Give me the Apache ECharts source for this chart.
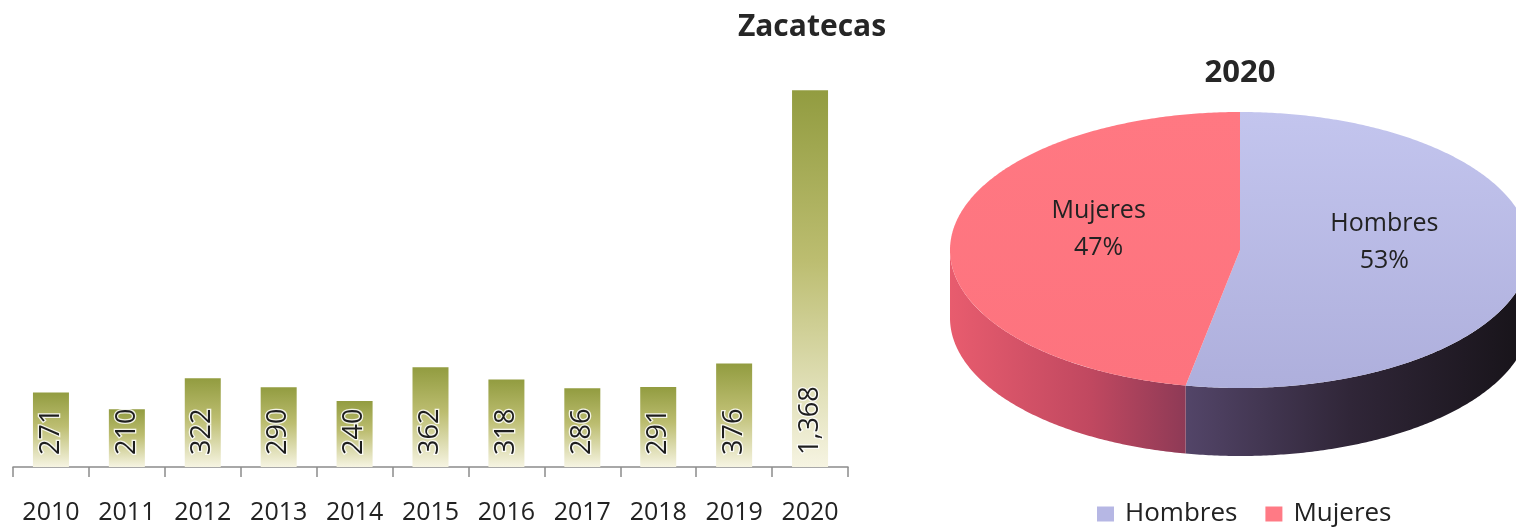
<!DOCTYPE html>
<html>
<head>
<meta charset="utf-8">
<script src="https://cdn.jsdelivr.net/npm/echarts@6/dist/echarts.min.js"></script>
<style>
  html, body { margin: 0; padding: 0; background: #ffffff; }
  #chart { width: 1516px; height: 528px; }
</style>
</head>
<body>
<div id="chart"></div>
<script>
// Casos anuales en Zacatecas
const years = ['2010', '2011', '2012', '2013', '2014', '2015', '2016', '2017', '2018', '2019', '2020'];
const casos = [271, 210, 322, 290, 240, 362, 318, 286, 291, 376, 1368];

// Distribución por sexo, 2020 (%)
const sexos = ['Hombres', 'Mujeres'];
const porcentajes = [53, 47];

const FONT = '"Open Sans", "Noto Sans", "DejaVu Sans", sans-serif';

// Geometry of the tilted pie (ellipse + side wall depth)
const PIE = { cx: 1240, cy: 250, rx: 290, ry: 138, depth: 68 };

const legendColors = ['#b6b7e4', '#ff7a85'];
const topFill = [
  { type: 'linear', x: 0, y: PIE.cy - PIE.ry, x2: 0, y2: PIE.cy + PIE.ry, global: true,
    colorStops: [{ offset: 0, color: '#c3c5ee' }, { offset: 1, color: '#aeafdc' }] },
  { type: 'linear', x: 0, y: PIE.cy - PIE.ry, x2: 0, y2: PIE.cy + PIE.ry, global: true,
    colorStops: [{ offset: 0, color: '#ff7882' }, { offset: 1, color: '#fd737e' }] }
];
const sideFill = [
  { type: 'linear', x: 1180, y: 0, x2: 1520, y2: 0, global: true,
    colorStops: [{ offset: 0, color: '#54466a' }, { offset: 0.5, color: '#302638' }, { offset: 1, color: '#18141a' }] },
  { type: 'linear', x: 950, y: 0, x2: 1186, y2: 0, global: true,
    colorStops: [{ offset: 0, color: '#e85c6e' }, { offset: 0.6, color: '#c04860' }, { offset: 1, color: '#8e3a56' }] }
];

// cumulative start / end fractions of each slice
const total = porcentajes.reduce((a, b) => a + b, 0);
let acc = 0;
const slices = porcentajes.map(v => {
  const start = acc / total;
  acc += v;
  return [start, acc / total, v];
});

function arcPoints(a0, a1, dy) {
  const pts = [];
  const n = Math.max(2, Math.ceil((a1 - a0) / 0.01));
  for (let i = 0; i <= n; i++) {
    const t = a0 + (a1 - a0) * i / n;
    pts.push([PIE.cx + PIE.rx * Math.sin(t), PIE.cy - PIE.ry * Math.cos(t) + dy]);
  }
  return pts;
}

function makeSliceRenderer(idx) {
  return function (params, api) {
    const a0 = api.value(0) * 2 * Math.PI;
    const a1 = api.value(1) * 2 * Math.PI;
    const pct = api.value(2);
    const children = [];
    // front side wall (only the lower half of the rim is visible)
    const s = Math.max(a0, Math.PI / 2);
    const e = Math.min(a1, 3 * Math.PI / 2);
    if (e > s) {
      const rim = arcPoints(s, e, 0);
      const base = arcPoints(s, e, PIE.depth).reverse();
      children.push({ type: 'polygon', shape: { points: rim.concat(base) }, style: { fill: sideFill[idx] } });
    }
    // top face
    const face = [[PIE.cx, PIE.cy]].concat(arcPoints(a0, a1, 0));
    children.push({ type: 'polygon', shape: { points: face }, style: { fill: topFill[idx] } });
    // label
    const mid = (a0 + a1) / 2;
    children.push({
      type: 'text',
      x: PIE.cx + PIE.rx * 0.5 * Math.sin(mid) + (idx === 1 ? 3 : 0),
      y: PIE.cy - PIE.ry * 0.5 * Math.cos(mid) - 14,
      style: {
        text: sexos[idx] + '\n' + pct + '%',
        align: 'center', verticalAlign: 'middle',
        fill: '#222222', fontSize: 25, fontFamily: FONT, lineHeight: 37
      }
    });
    return { type: 'group', children };
  };
}

const chart = echarts.init(document.getElementById('chart'), null, { renderer: 'canvas' });

const option = {
  backgroundColor: '#ffffff',
  animation: false,
  title: [
    { text: 'Zacatecas', left: 812, top: 12, textAlign: 'center', padding: 0,
      textStyle: { fontFamily: FONT, fontSize: 30, fontWeight: 'bold', color: '#262626' } },
    { text: '2020', left: 1240, top: 58, textAlign: 'center', padding: 0,
      textStyle: { fontFamily: FONT, fontSize: 31, fontWeight: 'bold', color: '#262626' } }
  ],
  legend: {
    data: sexos,
    left: 1097, top: 501, padding: 0,
    icon: 'rect', itemWidth: 17, itemHeight: 15, itemGap: 28,
    textStyle: { fontFamily: FONT, fontSize: 26, color: '#222222', padding: [0, 0, 0, 6] }
  },
  grid: { left: 13, right: 668, top: 54, bottom: 61 },
  xAxis: {
    type: 'category',
    data: years,
    axisLine: { lineStyle: { color: '#8c8c8c', width: 1.5 } },
    axisTick: { show: true, length: 10, lineStyle: { color: '#8c8c8c', width: 1.5 } },
    axisLabel: { fontFamily: FONT, fontSize: 25, color: '#222222', margin: 33, interval: 0 }
  },
  yAxis: { type: 'value', min: 0, max: 1500, show: false, splitLine: { show: false } },
  series: [
    {
      type: 'bar',
      name: 'Casos',
      data: casos,
      barWidth: 36,
      itemStyle: {
        color: {
          type: 'linear', x: 0, y: 0, x2: 0, y2: 1,
          colorStops: [
            { offset: 0, color: '#929c40' },
            { offset: 0.45, color: '#bcbd70' },
            { offset: 1, color: '#f6f4e2' }
          ]
        }
      },
      label: {
        show: true,
        position: 'insideBottom',
        distance: 12,
        rotate: 90,
        align: 'left',
        verticalAlign: 'middle',
        fontFamily: FONT,
        fontSize: 27,
        color: '#1e1e1e',
        textBorderColor: 'rgba(255,255,255,0.85)',
        textBorderWidth: 2.5,
        formatter: p => p.value.toLocaleString('en-US')
      }
    }
  ].concat(sexos.map((name, i) => ({
    type: 'custom',
    name: name,
    coordinateSystem: 'none',
    silent: true,
    itemStyle: { color: legendColors[i] },
    renderItem: makeSliceRenderer(i),
    data: [slices[i]]
  })))
};

chart.setOption(option);
</script>
</body>
</html>
